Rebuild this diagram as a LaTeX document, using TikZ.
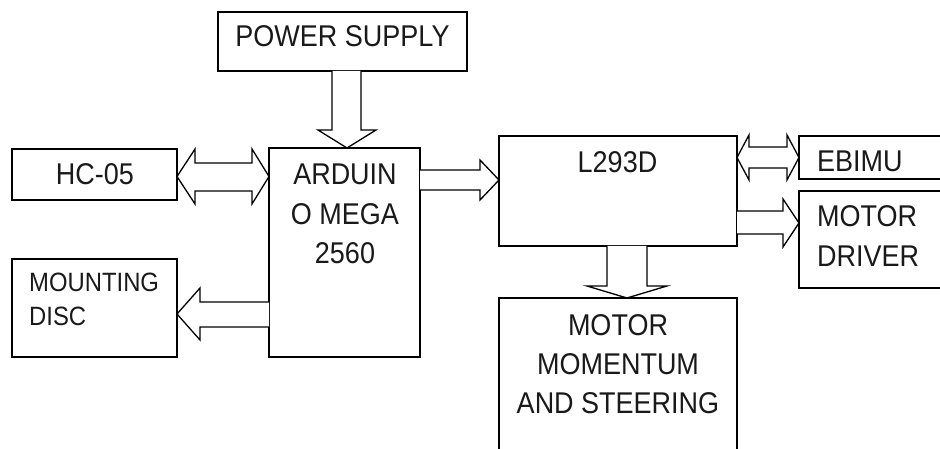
\documentclass[tikz,border=0pt]{standalone}
\usepackage{fontspec}
\setmainfont[FakeStretch=0.9]{Liberation Sans}
\begin{document}
\begin{tikzpicture}[x=1pt,y=-1pt,
  box/.style={draw, line width=1.3pt, inner sep=0pt, outer sep=0pt},
  fat/.style={draw, line width=1.3pt, line join=miter, fill=white},
  lab/.style={inner sep=0pt, anchor=base, text=black!90, font=\fontsize{30}{36}\selectfont},
  labl/.style={lab, anchor=base west},
  labs/.style={labl, font=\fontsize{26.5}{32}\selectfont}]
\useasboundingbox (0,0) rectangle (940,449);
\clip (0,0) rectangle (940,449);
% boxes
\node[box, minimum width=249pt, minimum height=59pt] (ps) at (342.5,41.5) {};
\node[box, minimum width=165pt, minimum height=51pt] (hc) at (94.5,174.5) {};
\node[box, minimum width=151pt, minimum height=209pt] (ard) at (344.5,252.5) {};
\node[box, minimum width=165pt, minimum height=98pt] (mnt) at (94.5,308) {};
\node[box, minimum width=238pt, minimum height=110pt] (l293) at (618,191) {};
\node[box, minimum width=181pt, minimum height=43pt] (ebimu) at (889.5,157.5) {};
\node[box, minimum width=181pt, minimum height=97pt] (mdrv) at (889.5,239.5) {};
\node[box, minimum width=238pt, minimum height=202pt] (mom) at (618,399) {};
% fat arrows
% power supply -> arduino
\draw[fat] (332,71) -- (332,130) -- (318,130) -- (347,148) -- (376,130) -- (361,130) -- (361,71);
% hc-05 <-> arduino
\draw[fat] (177,176.5) -- (195,149) -- (195,163) -- (252,163) -- (252,149) -- (269,176.5)
  -- (252,204) -- (252,191) -- (195,191) -- (195,204) -- cycle;
% arduino -> L293D
\draw[fat] (420,170) -- (480,170) -- (480,160) -- (499,180) -- (480,200) -- (480,190) -- (420,190);
% L293D <-> EBIMU
\draw[fat] (737,157.5) -- (749,135) -- (749,147) -- (787,147) -- (787,135) -- (799,157.5)
  -- (787,180) -- (787,168) -- (749,168) -- (749,180) -- cycle;
% L293D -> motor driver
\draw[fat] (737,211) -- (783,211) -- (783,199) -- (799,223) -- (783,247) -- (783,234) -- (737,234);
% L293D -> motor momentum
\draw[fat] (607,246) -- (607,286) -- (587,286) -- (627,298) -- (667,286) -- (647,286) -- (647,246);
% arduino -> mounting disc
\draw[fat] (269,302) -- (200,302) -- (200,288) -- (177,314) -- (200,340) -- (200,327) -- (269,327);
% texts
\node[lab] (tps) at (342.5,46.7) {POWER SUPPLY};
\node[lab] (thc) at (95,185) {HC-05};
\node[lab] (ta1) at (345,185) {ARDUIN};
\node[lab] (ta2) at (345,225) {O MEGA};
\node[lab] (ta3) at (345,263) {2560};
\node[lab] (tl) at (617.5,172.7) {L293D};
\node[labl] (te) at (817,172) {EBIMU};
\node[labl] (tm1) at (817,227) {MOTOR};
\node[labl] (tm2) at (817,267) {DRIVER};
\node[lab] (tmo1) at (618,335) {MOTOR};
\node[lab] (tmo2) at (618,374) {MOMENTUM};
\node[lab] (tmo3) at (618,413) {AND STEERING};
\node[labs] (tmn1) at (29,291.7) {MOUNTING};
\node[labs] (tmn2) at (29,325) {DISC};
\end{tikzpicture}
\end{document}
